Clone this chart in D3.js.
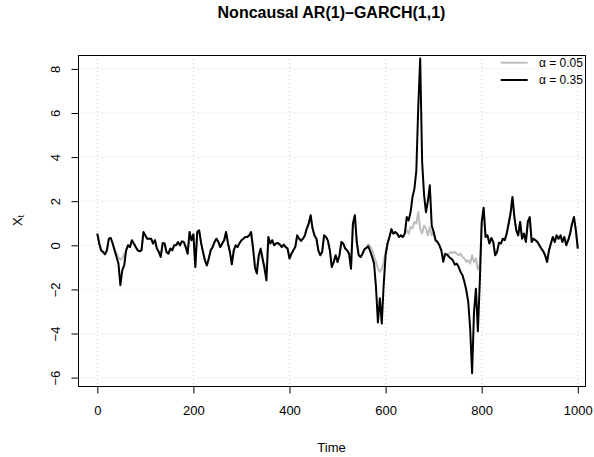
<!DOCTYPE html>
<html>
<head>
<meta charset="utf-8">
<script src="https://cdn.jsdelivr.net/npm/d3@7"></script>
<style>
  html, body { margin: 0; padding: 0; background: #fff; }
  svg { display: block; font-family: "Liberation Sans", Arial, Helvetica, sans-serif; }
</style>
</head>
<body>
<div id="chart"></div>
<script>
const timeStep = 4;
const alpha035 = [
  0.53, 0.08, -0.23, -0.30, -0.41, -0.23, 0.30, 0.33, 0.08, -0.23,
  -0.53, -0.83, -1.81, -1.13, -0.91, -0.23, 0, -0.08, 0.23, 0.08,
  -0.08, -0.23, -0.27, -0.23, 0.60, 0.45, 0.30, 0.30, 0.30, 0.08,
  0.23, -0.15, -0.30, -0.53, 0.10, 0.08, -0.30, -0.38, -0.15, -0.23,
  0, 0, 0.15, 0, 0.18, 0.15, -0.08, -0.38, 0.60, 0.23,
  0.50, -0.98, 0.60, 0.68, 0.10, -0.30, -0.68, -0.91, -0.60, -0.23,
  -0.08, 0.15, 0.30, 0.15, -0.08, 0.08, 0.23, 0.60, 0.08, -0.30,
  -0.86, -0.23, 0, -0.08, 0.10, 0.23, 0.30, 0.38, 0.38, 0.45,
  0.60, -0.10, -0.98, -1.28, -0.45, -0.15, -0.60, -1.06, -1.59, 0.38,
  0.08, 0.23, 0, 0.08, 0.10, 0.03, -0.08, 0.03, -0.08, -0.15,
  -0.60, -0.38, -0.23, -0.08, 0.45, 0.30, 0.20, 0.30, 0.45, 0.76,
  0.98, 1.36, 0.76, 0.45, 0.30, -0.23, -0.45, -0.30, 0.45, 0.38,
  0.20, -0.23, -0.98, -0.76, -0.45, -0.76, -0.45, 0.15, 0.08, -0.15,
  -0.23, -0.38, -1.06, 0.98, 1.36, 0.15, -0.45, -0.53, -0.38, -0.18,
  -0.12, -0.05, -0.27, -0.53, -0.83, -1.90, -3.50, -2.40, -3.55, -1.80,
  -0.45, 0.08, 0.38, 0.73, 0.53, 0.60, 0.53, 0.38, 0.45, 0.38,
  0.53, 1.28, 1.13, 1.51, 2.19, 2.57, 3.40, 6.30, 8.47, 3.80,
  2.30, 1.50, 2.00, 2.72, 0.90, 0.60, 0.23, 0.15, 0, -0.23,
  -0.75, -0.40, -0.42, -0.53, -0.60, -0.68, -0.88, -0.83, -0.98, -1.21,
  -1.36, -1.66, -2.04, -2.57, -3.78, -5.80, -3.02, -1.97, -3.90, -1.70,
  1.06, 1.70, 0.38, 0.45, 0.08, 0.33, 0.15, -0.45, -0.30, 0.12,
  0.08, 0.30, 0.23, 0.53, 0.98, 1.44, 2.19, 1.28, 0.68, 0.45,
  1.06, 0.30, 0.53, 0.15, 1.06, 1.28, 0.15, 0.30, 0.23, 0.15,
  0, -0.15, -0.27, -0.45, -0.76, -0.23, 0.08, 0.38, 0.15, 0.45,
  0.30, 0.45, 0.15, 0.38, 0, 0.23, 0.53, 0.98, 1.28, 0.68, -0.15
];
const alpha005 = [
  0.53, 0.08, -0.23, -0.30, -0.41, -0.23, 0.30, 0.33, 0.08, -0.20,
  -0.35, -0.55, -0.65, -0.60, -0.40, -0.23, 0, -0.08, 0.23, 0.08,
  -0.08, -0.23, -0.27, -0.23, 0.60, 0.45, 0.30, 0.30, 0.30, 0.08,
  0.23, -0.15, -0.30, -0.53, 0.10, 0.08, -0.30, -0.38, -0.15, -0.23,
  0, 0, 0.15, 0, 0.18, 0.15, -0.08, -0.38, 0.60, 0.23,
  0.50, -0.98, 0.60, 0.68, 0.10, -0.30, -0.68, -0.91, -0.60, -0.23,
  -0.08, 0.15, 0.30, 0.15, -0.08, 0.08, 0.23, 0.60, 0.08, -0.30,
  -0.86, -0.23, 0, -0.08, 0.10, 0.23, 0.30, 0.38, 0.38, 0.45,
  0.60, -0.10, -0.80, -1.00, -0.60, -0.30, -0.70, -0.90, -1.10, 0.38,
  0.08, 0.23, 0, 0.08, 0.10, 0.03, -0.08, 0.03, -0.08, -0.15,
  -0.60, -0.38, -0.23, -0.08, 0.45, 0.30, 0.20, 0.30, 0.45, 0.76,
  0.98, 1.36, 0.76, 0.45, 0.30, -0.23, -0.45, -0.30, 0.45, 0.38,
  0.20, -0.23, -0.98, -0.76, -0.45, -0.76, -0.45, 0.15, 0.08, -0.15,
  -0.23, -0.38, -1.06, 0.98, 1.36, 0.15, -0.45, -0.53, -0.38, -0.18,
  -0.12, 0.05, -0.05, -0.20, -0.50, -0.75, -1.06, -1.20, -1.06, -0.76,
  -0.30, 0.08, 0.38, 0.73, 0.53, 0.60, 0.53, 0.38, 0.45, 0.38,
  0.53, 0.68, 0.53, 0.83, 0.76, 1.06, 0.98, 1.51, 0.76, 0.53,
  0.90, 0.76, 0.45, 0.83, 0.45, 0.60, 0.23, 0.15, 0, -0.23,
  -0.55, -0.35, -0.45, -0.38, -0.30, -0.35, -0.30, -0.38, -0.45, -0.38,
  -0.53, -0.60, -0.75, -0.68, -0.83, -0.45, -0.76, -0.60, -1.10, -0.90,
  0.90, 1.70, 0.38, 0.45, 0.08, 0.33, 0.15, -0.45, -0.30, 0.12,
  0.08, 0.30, 0.23, 0.53, 0.98, 1.44, 2.19, 1.28, 0.68, 0.45,
  1.06, 0.30, 0.53, 0.15, 1.06, 1.28, 0.15, 0.30, 0.23, 0.15,
  0, -0.15, -0.27, -0.45, -0.76, -0.23, 0.08, 0.38, 0.15, 0.45,
  0.30, 0.45, 0.15, 0.38, 0, 0.23, 0.53, 0.98, 1.28, 0.68, -0.15
];
const xTicks = [0, 200, 400, 600, 800, 1000];
const yTicks = [-6, -4, -2, 0, 2, 4, 6, 8];
const legendAlphas = ["0.05", "0.35"];
const legendColors = ["#bebebe", "#000000"];

const W = 594, H = 457;
const svg = d3.select("#chart").append("svg")
  .attr("width", W).attr("height", H)
  .attr("viewBox", [0, 0, W, H]);

// scales tuned to the reference plot region
const x = d3.scaleLinear().domain([0, 1000]).range([97.3, 577.8]);
const y = d3.scaleLinear().domain([-6, 8]).range([377.6, 68.9]);

// plot box
const bx0 = 78, bx1 = 585;
const by0 = 55, by1 = 386;

// grid (dotted lightgray)
const grid = svg.append("g").attr("stroke", "#d3d3d3").attr("stroke-dasharray", "1,3");
grid.selectAll("line.gx").data(xTicks).join("line")
  .attr("x1", d => x(d)).attr("x2", d => x(d))
  .attr("y1", by0).attr("y2", by1);
grid.selectAll("line.gy").data(yTicks).join("line")
  .attr("x1", bx0).attr("x2", bx1)
  .attr("y1", d => y(d)).attr("y2", d => y(d));

// series
const time = d3.range(0, alpha035.length).map(i => i * timeStep);
const line = d3.line().x((d, i) => x(time[i])).y(d => y(d));
svg.append("path").datum(alpha005)
  .attr("fill", "none").attr("stroke", legendColors[0]).attr("stroke-width", 2)
  .attr("stroke-linejoin", "round").attr("d", line);
svg.append("path").datum(alpha035)
  .attr("fill", "none").attr("stroke", legendColors[1]).attr("stroke-width", 2)
  .attr("stroke-linejoin", "round").attr("d", line);

// box
svg.append("rect")
  .attr("x", bx0 + 0.5).attr("y", by0 + 0.5)
  .attr("width", bx1 - bx0).attr("height", by1 - by0)
  .attr("fill", "none").attr("stroke", "#000").attr("stroke-width", 1);

// x axis
const axX = svg.append("g")
  .attr("transform", `translate(0,${by1 + 0.5})`)
  .call(d3.axisBottom(x).tickValues(xTicks).tickSize(7).tickPadding(12).tickFormat(d3.format("d")));
axX.select(".domain").remove();
axX.selectAll(".tick text").attr("font-size", 13).attr("font-family", null).attr("fill", "#000");

// y axis, labels parallel to the axis
const axY = svg.append("g")
  .attr("transform", `translate(${bx0 + 0.5},0)`)
  .call(d3.axisLeft(y).tickValues(yTicks).tickSize(7).tickFormat(d => d < 0 ? "\u2212" + Math.abs(d) : d));
axY.select(".domain").remove();
axY.selectAll(".tick text")
  .attr("font-size", 13).attr("font-family", null).attr("fill", "#000")
  .attr("x", null).attr("dy", null)
  .attr("text-anchor", "middle")
  .attr("transform", "translate(-19,0) rotate(-90)");

// titles
svg.append("text")
  .attr("x", (bx0 + bx1) / 2).attr("y", 18)
  .attr("text-anchor", "middle").attr("font-weight", "bold").attr("font-size", 16)
  .text("Noncausal AR(1)\u2013GARCH(1,1)");
svg.append("text")
  .attr("x", (bx0 + bx1) / 2).attr("y", 452)
  .attr("text-anchor", "middle").attr("font-size", 13)
  .text("Time");
const yl = svg.append("text")
  .attr("transform", `translate(22,${(by0 + by1) / 2}) rotate(-90)`)
  .attr("text-anchor", "middle").attr("font-size", 13);
yl.append("tspan").text("X");
yl.append("tspan").attr("font-size", 9).attr("dy", 2).text("t");

// legend (no box)
const leg = svg.append("g");
legendAlphas.forEach((a, i) => {
  const ly = 62.7 + i * 17.3;
  leg.append("line")
    .attr("x1", 500.7).attr("x2", 527.7).attr("y1", ly).attr("y2", ly)
    .attr("stroke", legendColors[i]).attr("stroke-width", 2);
  leg.append("text").attr("x", 539).attr("y", ly + 4.3).attr("font-size", 12)
    .text(`\u03b1 = ${a}`);
});
</script>
</body>
</html>
